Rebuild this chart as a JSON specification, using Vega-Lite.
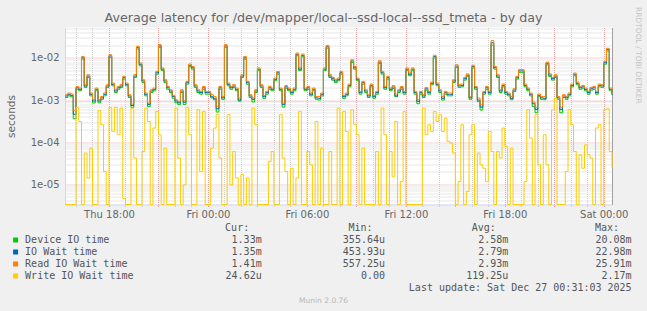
{
 "$schema": "https://vega.github.io/schema/vega-lite/v6.json",
 "background": "#f0f0f0",
 "padding": {"left": 6, "top": 6.5, "right": 10, "bottom": 12},
 "spacing": 3,
 "title": {"text": "Munin 2.0.76", "orient": "bottom", "anchor": "middle", "frame": "bounds", "fontSize": 7.5, "color": "#b8b8b8", "font": "DejaVu Sans", "fontWeight": "normal", "offset": 4},
 "config": {
  "view": {"stroke": null},
  "font": "DejaVu Sans",
  "axis": {"labelFont": "DejaVu Sans", "titleFont": "DejaVu Sans", "labelColor": "#666666", "titleColor": "#666666", "titleFontWeight": "normal"},
  "text": {"font": "DejaVu Sans Mono", "fontSize": 10, "color": "#555555", "baseline": "middle"}
 },
 "datasets": {
  "leg": [
   {"key": "dev", "name": "Device IO time", "Cur": "1.33m", "Min": "355.64u", "Avg": "2.58m", "Max": "20.08m"},
   {"key": "iow", "name": "IO Wait time", "Cur": "1.35m", "Min": "453.93u", "Avg": "2.79m", "Max": "22.98m"},
   {"key": "rd", "name": "Read IO Wait time", "Cur": "1.41m", "Min": "557.25u", "Avg": "2.93m", "Max": "25.91m"},
   {"key": "wr", "name": "Write IO Wait time", "Cur": "24.62u", "Min": "0.00\u00a0", "Avg": "119.25u", "Max": "2.17m"}
  ],
  "ts": [
   {"t":"2025-12-25T15:20","dev":0.00115,"iow":0.00125,"rd":0.00134,"wr":0},
   {"t":"2025-12-25T15:30","dev":0.00126,"iow":0.00137,"rd":0.00147,"wr":0},
   {"t":"2025-12-25T15:40","dev":0.0012,"iow":0.00129,"rd":0.00139,"wr":0},
   {"t":"2025-12-25T15:50","dev":0.00036,"iow":0.00046,"rd":0.00056,"wr":0},
   {"t":"2025-12-25T16:00","dev":0.0018,"iow":0.00196,"rd":0.00211,"wr":0.00067},
   {"t":"2025-12-25T16:10","dev":0.00166,"iow":0.0018,"rd":0.00193,"wr":0.00031},
   {"t":"2025-12-25T16:20","dev":0.0094,"iow":0.0101,"rd":0.0109,"wr":0},
   {"t":"2025-12-25T16:30","dev":0.002,"iow":0.00216,"rd":0.00232,"wr":0.000055},
   {"t":"2025-12-25T16:40","dev":0.00344,"iow":0.00372,"rd":0.004,"wr":0.000014},
   {"t":"2025-12-25T16:50","dev":0.00126,"iow":0.00137,"rd":0.00147,"wr":0.000072},
   {"t":"2025-12-25T17:00","dev":0.00085,"iow":0.00095,"rd":0.00102,"wr":0},
   {"t":"2025-12-25T17:10","dev":0.00166,"iow":0.0018,"rd":0.00193,"wr":0},
   {"t":"2025-12-25T17:20","dev":0.00086,"iow":0.00095,"rd":0.00102,"wr":0.00056},
   {"t":"2025-12-25T17:30","dev":0.00104,"iow":0.00113,"rd":0.00122,"wr":0.00026},
   {"t":"2025-12-25T17:40","dev":0.00126,"iow":0.00137,"rd":0.00147,"wr":0.00002},
   {"t":"2025-12-25T17:50","dev":0.002,"iow":0.00216,"rd":0.00232,"wr":0},
   {"t":"2025-12-25T18:00","dev":0.0103,"iow":0.0112,"rd":0.012,"wr":0.00067},
   {"t":"2025-12-25T18:10","dev":0.00218,"iow":0.00236,"rd":0.00254,"wr":0.00018},
   {"t":"2025-12-25T18:20","dev":0.00151,"iow":0.00164,"rd":0.00176,"wr":0.00067},
   {"t":"2025-12-25T18:30","dev":0.0018,"iow":0.00196,"rd":0.00211,"wr":0.00015},
   {"t":"2025-12-25T18:40","dev":0.002,"iow":0.00216,"rd":0.00232,"wr":0.000645},
   {"t":"2025-12-25T18:50","dev":0.00315,"iow":0.0034,"rd":0.00366,"wr":0.0000046},
   {"t":"2025-12-25T19:00","dev":0.00218,"iow":0.00236,"rd":0.00254,"wr":0},
   {"t":"2025-12-25T19:10","dev":0.00115,"iow":0.00125,"rd":0.00134,"wr":0},
   {"t":"2025-12-25T19:20","dev":0.00066,"iow":0.00074,"rd":0.0008,"wr":0.000645},
   {"t":"2025-12-25T19:30","dev":0.00344,"iow":0.00372,"rd":0.004,"wr":0.000042},
   {"t":"2025-12-25T19:40","dev":0.0163,"iow":0.0176,"rd":0.0189,"wr":0},
   {"t":"2025-12-25T19:50","dev":0.0065,"iow":0.00707,"rd":0.0076,"wr":0},
   {"t":"2025-12-25T20:00","dev":0.00262,"iow":0.00284,"rd":0.00305,"wr":0.00006},
   {"t":"2025-12-25T20:10","dev":0.00126,"iow":0.00137,"rd":0.00147,"wr":0.000645},
   {"t":"2025-12-25T20:20","dev":0.0007,"iow":0.00079,"rd":0.00085,"wr":0.00031},
   {"t":"2025-12-25T20:30","dev":0.00151,"iow":0.00164,"rd":0.00176,"wr":0},
   {"t":"2025-12-25T20:40","dev":0.00166,"iow":0.0018,"rd":0.00193,"wr":0.000216},
   {"t":"2025-12-25T20:50","dev":0.00413,"iow":0.00446,"rd":0.0048,"wr":0.00054},
   {"t":"2025-12-25T21:00","dev":0.0179,"iow":0.0193,"rd":0.0208,"wr":0.00015},
   {"t":"2025-12-25T21:10","dev":0.005,"iow":0.0054,"rd":0.0058,"wr":0},
   {"t":"2025-12-25T21:20","dev":0.00262,"iow":0.00284,"rd":0.00305,"wr":0.000072},
   {"t":"2025-12-25T21:30","dev":0.0018,"iow":0.00196,"rd":0.00211,"wr":0},
   {"t":"2025-12-25T21:40","dev":0.00151,"iow":0.00164,"rd":0.00176,"wr":0},
   {"t":"2025-12-25T21:50","dev":0.0011,"iow":0.00121,"rd":0.0013,"wr":0},
   {"t":"2025-12-25T22:00","dev":0.00086,"iow":0.00095,"rd":0.00102,"wr":0.000645},
   {"t":"2025-12-25T22:10","dev":0.00078,"iow":0.00086,"rd":0.00093,"wr":0.000042},
   {"t":"2025-12-25T22:20","dev":0.00151,"iow":0.00164,"rd":0.00176,"wr":0},
   {"t":"2025-12-25T22:30","dev":0.00078,"iow":0.00089,"rd":0.00096,"wr":0.0000096},
   {"t":"2025-12-25T22:40","dev":0.00239,"iow":0.00259,"rd":0.00278,"wr":0.00067},
   {"t":"2025-12-25T22:50","dev":0.0062,"iow":0.0067,"rd":0.0072,"wr":0.00015},
   {"t":"2025-12-25T23:00","dev":0.00542,"iow":0.00586,"rd":0.0063,"wr":0},
   {"t":"2025-12-25T23:10","dev":0.002,"iow":0.00216,"rd":0.00232,"wr":0},
   {"t":"2025-12-25T23:20","dev":0.00151,"iow":0.00164,"rd":0.00176,"wr":0.00059},
   {"t":"2025-12-25T23:30","dev":0.00138,"iow":0.0015,"rd":0.00161,"wr":0.00002},
   {"t":"2025-12-25T23:40","dev":0.0018,"iow":0.00196,"rd":0.00211,"wr":0.00054},
   {"t":"2025-12-25T23:50","dev":0.00138,"iow":0.0015,"rd":0.00161,"wr":0},
   {"t":"2025-12-26T00:00","dev":0.00138,"iow":0.0015,"rd":0.00161,"wr":0},
   {"t":"2025-12-26T00:10","dev":0.00112,"iow":0.0012,"rd":0.00134,"wr":0.000072},
   {"t":"2025-12-26T00:20","dev":0.00102,"iow":0.0011,"rd":0.00122,"wr":0.000216},
   {"t":"2025-12-26T00:30","dev":0.00052,"iow":0.00062,"rd":0.00071,"wr":0.00045},
   {"t":"2025-12-26T00:40","dev":0.0018,"iow":0.00196,"rd":0.00211,"wr":0.000042},
   {"t":"2025-12-26T00:50","dev":0.00104,"iow":0.00113,"rd":0.00122,"wr":0},
   {"t":"2025-12-26T01:00","dev":0.0179,"iow":0.0193,"rd":0.0208,"wr":0},
   {"t":"2025-12-26T01:10","dev":0.00218,"iow":0.00236,"rd":0.00254,"wr":0.00045},
   {"t":"2025-12-26T01:20","dev":0.0018,"iow":0.00196,"rd":0.00211,"wr":0.0000096},
   {"t":"2025-12-26T01:30","dev":0.002,"iow":0.00216,"rd":0.00232,"wr":0.00006},
   {"t":"2025-12-26T01:40","dev":0.00166,"iow":0.0018,"rd":0.00193,"wr":0.000014},
   {"t":"2025-12-26T01:50","dev":0.00094,"iow":0.001,"rd":0.00112,"wr":0},
   {"t":"2025-12-26T02:00","dev":0.00344,"iow":0.00372,"rd":0.004,"wr":0.000017},
   {"t":"2025-12-26T02:10","dev":0.0094,"iow":0.0101,"rd":0.0109,"wr":0},
   {"t":"2025-12-26T02:20","dev":0.00239,"iow":0.00259,"rd":0.00278,"wr":0.000014},
   {"t":"2025-12-26T02:30","dev":0.00115,"iow":0.00125,"rd":0.00134,"wr":0},
   {"t":"2025-12-26T02:40","dev":0.0009,"iow":0.00104,"rd":0.00112,"wr":0.000645},
   {"t":"2025-12-26T02:50","dev":0.00151,"iow":0.00164,"rd":0.00176,"wr":0.00026},
   {"t":"2025-12-26T03:00","dev":0.005,"iow":0.0054,"rd":0.0058,"wr":0},
   {"t":"2025-12-26T03:10","dev":0.002,"iow":0.00216,"rd":0.00232,"wr":0},
   {"t":"2025-12-26T03:20","dev":0.0011,"iow":0.0012,"rd":0.00129,"wr":0},
   {"t":"2025-12-26T03:30","dev":0.00138,"iow":0.0015,"rd":0.00161,"wr":0},
   {"t":"2025-12-26T03:40","dev":0.0018,"iow":0.00196,"rd":0.00211,"wr":0.000035},
   {"t":"2025-12-26T03:50","dev":0.00166,"iow":0.0018,"rd":0.00193,"wr":0.00006},
   {"t":"2025-12-26T04:00","dev":0.00287,"iow":0.0031,"rd":0.00334,"wr":0},
   {"t":"2025-12-26T04:10","dev":0.00413,"iow":0.00446,"rd":0.0048,"wr":0},
   {"t":"2025-12-26T04:20","dev":0.00166,"iow":0.0018,"rd":0.00193,"wr":0.00045},
   {"t":"2025-12-26T04:30","dev":0.00068,"iow":0.00079,"rd":0.00085,"wr":0.000042},
   {"t":"2025-12-26T04:40","dev":0.00192,"iow":0.00207,"rd":0.00223,"wr":0.00002},
   {"t":"2025-12-26T04:50","dev":0.00166,"iow":0.0018,"rd":0.00193,"wr":0},
   {"t":"2025-12-26T05:00","dev":0.00138,"iow":0.0015,"rd":0.00161,"wr":0.000024},
   {"t":"2025-12-26T05:10","dev":0.00166,"iow":0.0018,"rd":0.00193,"wr":0},
   {"t":"2025-12-26T05:20","dev":0.0113,"iow":0.0122,"rd":0.0131,"wr":0.000014},
   {"t":"2025-12-26T05:30","dev":0.005,"iow":0.0054,"rd":0.0058,"wr":0.00054},
   {"t":"2025-12-26T05:40","dev":0.0107,"iow":0.0115,"rd":0.0124,"wr":0},
   {"t":"2025-12-26T05:50","dev":0.00166,"iow":0.0018,"rd":0.00193,"wr":0},
   {"t":"2025-12-26T06:00","dev":0.0018,"iow":0.00196,"rd":0.00211,"wr":0.00006},
   {"t":"2025-12-26T06:10","dev":0.00126,"iow":0.00137,"rd":0.00147,"wr":0.000029},
   {"t":"2025-12-26T06:20","dev":0.00166,"iow":0.0018,"rd":0.00193,"wr":0},
   {"t":"2025-12-26T06:30","dev":0.00104,"iow":0.00113,"rd":0.00122,"wr":0.00031},
   {"t":"2025-12-26T06:40","dev":0.001,"iow":0.0011,"rd":0.00122,"wr":0},
   {"t":"2025-12-26T06:50","dev":0.00126,"iow":0.00137,"rd":0.00147,"wr":0.000072},
   {"t":"2025-12-26T07:00","dev":0.005,"iow":0.0054,"rd":0.0058,"wr":0},
   {"t":"2025-12-26T07:10","dev":0.0171,"iow":0.0185,"rd":0.0199,"wr":0},
   {"t":"2025-12-26T07:20","dev":0.00344,"iow":0.00372,"rd":0.004,"wr":0.00006},
   {"t":"2025-12-26T07:30","dev":0.00298,"iow":0.00322,"rd":0.00346,"wr":0},
   {"t":"2025-12-26T07:40","dev":0.00262,"iow":0.00284,"rd":0.00305,"wr":0},
   {"t":"2025-12-26T07:50","dev":0.00287,"iow":0.0031,"rd":0.00334,"wr":0.000645},
   {"t":"2025-12-26T08:00","dev":0.00413,"iow":0.00446,"rd":0.0048,"wr":0},
   {"t":"2025-12-26T08:10","dev":0.0011,"iow":0.0012,"rd":0.00129,"wr":0.00054},
   {"t":"2025-12-26T08:20","dev":0.00126,"iow":0.00137,"rd":0.00147,"wr":0.00018},
   {"t":"2025-12-26T08:30","dev":0.00206,"iow":0.00223,"rd":0.0024,"wr":0},
   {"t":"2025-12-26T08:40","dev":0.00783,"iow":0.00846,"rd":0.0091,"wr":0.00059},
   {"t":"2025-12-26T08:50","dev":0.00542,"iow":0.00586,"rd":0.0063,"wr":0.00026},
   {"t":"2025-12-26T09:00","dev":0.00287,"iow":0.0031,"rd":0.00334,"wr":0.00015},
   {"t":"2025-12-26T09:10","dev":0.00138,"iow":0.0015,"rd":0.00161,"wr":0},
   {"t":"2025-12-26T09:20","dev":0.00239,"iow":0.00259,"rd":0.00278,"wr":0.000072},
   {"t":"2025-12-26T09:30","dev":0.00151,"iow":0.00164,"rd":0.00176,"wr":0},
   {"t":"2025-12-26T09:40","dev":0.00115,"iow":0.00125,"rd":0.00134,"wr":0},
   {"t":"2025-12-26T09:50","dev":0.00206,"iow":0.00223,"rd":0.0024,"wr":0},
   {"t":"2025-12-26T10:00","dev":0.0011,"iow":0.0012,"rd":0.00129,"wr":0},
   {"t":"2025-12-26T10:10","dev":0.00138,"iow":0.0015,"rd":0.00161,"wr":0.00006},
   {"t":"2025-12-26T10:20","dev":0.0074,"iow":0.008,"rd":0.0086,"wr":0},
   {"t":"2025-12-26T10:30","dev":0.00413,"iow":0.00446,"rd":0.0048,"wr":0.000645},
   {"t":"2025-12-26T10:40","dev":0.0018,"iow":0.00196,"rd":0.00211,"wr":0.00015},
   {"t":"2025-12-26T10:50","dev":0.00315,"iow":0.0034,"rd":0.00366,"wr":0},
   {"t":"2025-12-26T11:00","dev":0.00166,"iow":0.0018,"rd":0.00193,"wr":0.00006},
   {"t":"2025-12-26T11:10","dev":0.00189,"iow":0.00205,"rd":0.0022,"wr":0.000015},
   {"t":"2025-12-26T11:20","dev":0.0012,"iow":0.00125,"rd":0.00139,"wr":0.00031},
   {"t":"2025-12-26T11:30","dev":0.00151,"iow":0.00164,"rd":0.00176,"wr":0},
   {"t":"2025-12-26T11:40","dev":0.0018,"iow":0.00196,"rd":0.00211,"wr":0.0000115},
   {"t":"2025-12-26T11:50","dev":0.00138,"iow":0.0015,"rd":0.00161,"wr":0.00054},
   {"t":"2025-12-26T12:00","dev":0.005,"iow":0.0054,"rd":0.0058,"wr":0},
   {"t":"2025-12-26T12:10","dev":0.00378,"iow":0.0041,"rd":0.0044,"wr":0},
   {"t":"2025-12-26T12:20","dev":0.005,"iow":0.0054,"rd":0.0058,"wr":0},
   {"t":"2025-12-26T12:30","dev":0.00138,"iow":0.0015,"rd":0.00161,"wr":0},
   {"t":"2025-12-26T12:40","dev":0.00082,"iow":0.00093,"rd":0.00102,"wr":0},
   {"t":"2025-12-26T12:50","dev":0.00138,"iow":0.0015,"rd":0.00161,"wr":0},
   {"t":"2025-12-26T13:00","dev":0.00115,"iow":0.00125,"rd":0.00134,"wr":0.000645},
   {"t":"2025-12-26T13:10","dev":0.00172,"iow":0.00186,"rd":0.002,"wr":0.00015},
   {"t":"2025-12-26T13:20","dev":0.00138,"iow":0.0015,"rd":0.00161,"wr":0.00026},
   {"t":"2025-12-26T13:30","dev":0.0023,"iow":0.00249,"rd":0.00268,"wr":0.00018},
   {"t":"2025-12-26T13:40","dev":0.01,"iow":0.0108,"rd":0.0116,"wr":0.00054},
   {"t":"2025-12-26T13:50","dev":0.00218,"iow":0.00236,"rd":0.00254,"wr":0.00031},
   {"t":"2025-12-26T14:00","dev":0.00151,"iow":0.00164,"rd":0.00176,"wr":0.00045},
   {"t":"2025-12-26T14:10","dev":0.001,"iow":0.0011,"rd":0.00122,"wr":0.00018},
   {"t":"2025-12-26T14:20","dev":0.00138,"iow":0.0015,"rd":0.00161,"wr":0.00037},
   {"t":"2025-12-26T14:30","dev":0.00126,"iow":0.00137,"rd":0.00147,"wr":0.000104},
   {"t":"2025-12-26T14:40","dev":0.00126,"iow":0.00137,"rd":0.00147,"wr":0.000095},
   {"t":"2025-12-26T14:50","dev":0.00262,"iow":0.00284,"rd":0.00305,"wr":0.000055},
   {"t":"2025-12-26T15:00","dev":0.00593,"iow":0.00642,"rd":0.0069,"wr":0},
   {"t":"2025-12-26T15:10","dev":0.002,"iow":0.00216,"rd":0.00232,"wr":0.0000115},
   {"t":"2025-12-26T15:20","dev":0.00206,"iow":0.00223,"rd":0.0024,"wr":0.00026},
   {"t":"2025-12-26T15:30","dev":0.00298,"iow":0.00322,"rd":0.00346,"wr":0},
   {"t":"2025-12-26T15:40","dev":0.00361,"iow":0.0039,"rd":0.0042,"wr":0.0000067},
   {"t":"2025-12-26T15:50","dev":0.00104,"iow":0.00113,"rd":0.00122,"wr":0.00015},
   {"t":"2025-12-26T16:00","dev":0.00576,"iow":0.00623,"rd":0.0067,"wr":0.00026},
   {"t":"2025-12-26T16:10","dev":0.0018,"iow":0.00196,"rd":0.00211,"wr":0},
   {"t":"2025-12-26T16:20","dev":0.00092,"iow":0.001,"rd":0.00112,"wr":0.000055},
   {"t":"2025-12-26T16:30","dev":0.00058,"iow":0.00068,"rd":0.00077,"wr":0.000029},
   {"t":"2025-12-26T16:40","dev":0.00138,"iow":0.0015,"rd":0.00161,"wr":0.000024},
   {"t":"2025-12-26T16:50","dev":0.0018,"iow":0.00196,"rd":0.00211,"wr":0.0000115},
   {"t":"2025-12-26T17:00","dev":0.00138,"iow":0.0015,"rd":0.00161,"wr":0.00018},
   {"t":"2025-12-26T17:10","dev":0.02008,"iow":0.02298,"rd":0.02591,"wr":0.00006},
   {"t":"2025-12-26T17:20","dev":0.00542,"iow":0.00586,"rd":0.0063,"wr":0},
   {"t":"2025-12-26T17:30","dev":0.00344,"iow":0.00372,"rd":0.004,"wr":0.00006},
   {"t":"2025-12-26T17:40","dev":0.00151,"iow":0.00164,"rd":0.00176,"wr":0.000042},
   {"t":"2025-12-26T17:50","dev":0.00206,"iow":0.00223,"rd":0.0024,"wr":0.000216},
   {"t":"2025-12-26T18:00","dev":0.00138,"iow":0.0015,"rd":0.00161,"wr":0.000079},
   {"t":"2025-12-26T18:10","dev":0.00126,"iow":0.00137,"rd":0.00147,"wr":0},
   {"t":"2025-12-26T18:20","dev":0.00102,"iow":0.0011,"rd":0.00122,"wr":0.000072},
   {"t":"2025-12-26T18:30","dev":0.0016,"iow":0.00173,"rd":0.00186,"wr":0},
   {"t":"2025-12-26T18:40","dev":0.00315,"iow":0.0034,"rd":0.00366,"wr":0},
   {"t":"2025-12-26T18:50","dev":0.00456,"iow":0.00493,"rd":0.0053,"wr":0},
   {"t":"2025-12-26T19:00","dev":0.00456,"iow":0.00493,"rd":0.0053,"wr":0},
   {"t":"2025-12-26T19:10","dev":0.00206,"iow":0.00223,"rd":0.0024,"wr":0.0000115},
   {"t":"2025-12-26T19:20","dev":0.00166,"iow":0.0018,"rd":0.00193,"wr":0.00059},
   {"t":"2025-12-26T19:30","dev":0.00126,"iow":0.00137,"rd":0.00147,"wr":0.000125},
   {"t":"2025-12-26T19:40","dev":0.0007,"iow":0.00082,"rd":0.0009,"wr":0},
   {"t":"2025-12-26T19:50","dev":0.0005,"iow":0.0006,"rd":0.00067,"wr":0.00045},
   {"t":"2025-12-26T20:00","dev":0.0012,"iow":0.00129,"rd":0.00139,"wr":0.000029},
   {"t":"2025-12-26T20:10","dev":0.00104,"iow":0.00113,"rd":0.00122,"wr":0},
   {"t":"2025-12-26T20:20","dev":0.00102,"iow":0.0011,"rd":0.00122,"wr":0.00015},
   {"t":"2025-12-26T20:30","dev":0.00688,"iow":0.00744,"rd":0.008,"wr":0.000029},
   {"t":"2025-12-26T20:40","dev":0.00361,"iow":0.0039,"rd":0.0042,"wr":0},
   {"t":"2025-12-26T20:50","dev":0.00298,"iow":0.00322,"rd":0.00346,"wr":0.00059},
   {"t":"2025-12-26T21:00","dev":0.00344,"iow":0.00372,"rd":0.004,"wr":0.0011},
   {"t":"2025-12-26T21:10","dev":0.00104,"iow":0.00113,"rd":0.00122,"wr":0},
   {"t":"2025-12-26T21:20","dev":0.0005,"iow":0.0006,"rd":0.00067,"wr":0},
   {"t":"2025-12-26T21:30","dev":0.00115,"iow":0.00125,"rd":0.00134,"wr":0},
   {"t":"2025-12-26T21:40","dev":0.00104,"iow":0.00113,"rd":0.00122,"wr":0.00002},
   {"t":"2025-12-26T21:50","dev":0.00126,"iow":0.00137,"rd":0.00147,"wr":0.00059},
   {"t":"2025-12-26T22:00","dev":0.00206,"iow":0.00223,"rd":0.0024,"wr":0.00026},
   {"t":"2025-12-26T22:10","dev":0.00378,"iow":0.0041,"rd":0.0044,"wr":0.00006},
   {"t":"2025-12-26T22:20","dev":0.0023,"iow":0.00249,"rd":0.00268,"wr":0},
   {"t":"2025-12-26T22:30","dev":0.0018,"iow":0.00196,"rd":0.00211,"wr":0.00005},
   {"t":"2025-12-26T22:40","dev":0.00192,"iow":0.00207,"rd":0.00223,"wr":0.000024},
   {"t":"2025-12-26T22:50","dev":0.00166,"iow":0.0018,"rd":0.00193,"wr":0.000086},
   {"t":"2025-12-26T23:00","dev":0.00138,"iow":0.0015,"rd":0.00161,"wr":0.00005},
   {"t":"2025-12-26T23:10","dev":0.00172,"iow":0.00186,"rd":0.002,"wr":0.000042},
   {"t":"2025-12-26T23:20","dev":0.0018,"iow":0.00196,"rd":0.00211,"wr":0},
   {"t":"2025-12-26T23:30","dev":0.00138,"iow":0.0015,"rd":0.00161,"wr":0.000216},
   {"t":"2025-12-26T23:40","dev":0.00206,"iow":0.00223,"rd":0.0024,"wr":0.00026},
   {"t":"2025-12-26T23:50","dev":0.002,"iow":0.00216,"rd":0.00232,"wr":0},
   {"t":"2025-12-27T00:00","dev":0.0071,"iow":0.0077,"rd":0.0083,"wr":0.00059},
   {"t":"2025-12-27T00:10","dev":0.0146,"iow":0.0158,"rd":0.017,"wr":0.00062},
   {"t":"2025-12-27T00:20","dev":0.00166,"iow":0.0018,"rd":0.00193,"wr":0.00006},
   {"t":"2025-12-27T00:30","dev":0.00133,"iow":0.00135,"rd":0.00141,"wr":0.0000246}
  ]
 },
 "vconcat": [
  {
   "title": {"text": "Average latency for /dev/mapper/local--ssd-local--ssd_tmeta - by day", "fontSize": 12.7, "fontWeight": "normal", "color": "#666666", "font": "DejaVu Sans", "anchor": "middle", "frame": "bounds", "offset": -18},
   "width": 547,
   "height": 177,
   "view": {"fill": "white", "stroke": null},
   "data": {"name": "ts"},
   "resolve": {"axis": {"x": "independent", "y": "independent"}},
   "layer": [
    {
     "mark": {"type": "line", "interpolate": "step-after", "strokeWidth": 1, "color": "#00cc00"},
     "encoding": {
      "x": {"field": "t", "type": "temporal",
            "scale": {"domain": [{"year": 2025, "month": 12, "date": 25, "hours": 15, "minutes": 20}, {"year": 2025, "month": 12, "date": 27, "hours": 0, "minutes": 30}]},
            "axis": {"orient": "bottom", "values": [
              {"year": 2025, "month": 12, "date": 25, "hours": 16}, {"year": 2025, "month": 12, "date": 25, "hours": 17}, {"year": 2025, "month": 12, "date": 25, "hours": 19}, {"year": 2025, "month": 12, "date": 25, "hours": 20},
              {"year": 2025, "month": 12, "date": 25, "hours": 22}, {"year": 2025, "month": 12, "date": 25, "hours": 23}, {"year": 2025, "month": 12, "date": 26, "hours": 1}, {"year": 2025, "month": 12, "date": 26, "hours": 2},
              {"year": 2025, "month": 12, "date": 26, "hours": 4}, {"year": 2025, "month": 12, "date": 26, "hours": 5}, {"year": 2025, "month": 12, "date": 26, "hours": 7}, {"year": 2025, "month": 12, "date": 26, "hours": 8},
              {"year": 2025, "month": 12, "date": 26, "hours": 10}, {"year": 2025, "month": 12, "date": 26, "hours": 11}, {"year": 2025, "month": 12, "date": 26, "hours": 13}, {"year": 2025, "month": 12, "date": 26, "hours": 14},
              {"year": 2025, "month": 12, "date": 26, "hours": 16}, {"year": 2025, "month": 12, "date": 26, "hours": 17}, {"year": 2025, "month": 12, "date": 26, "hours": 19}, {"year": 2025, "month": 12, "date": 26, "hours": 20},
              {"year": 2025, "month": 12, "date": 26, "hours": 22}, {"year": 2025, "month": 12, "date": 26, "hours": 23}],
              "grid": true, "gridColor": "#cfcfcf", "gridDash": [1, 1], "labels": false, "ticks": true, "tickColor": "#cfcfcf", "tickSize": 2, "domain": false, "title": null}},
      "y": {"field": "dev", "type": "quantitative",
            "scale": {"type": "log", "domain": [0.0000033, 0.053], "clamp": true, "nice": false},
            "axis": {"orient": "left", "values": [0.000004, 0.000005, 0.000006, 0.000007, 0.000008, 0.000009, 0.00002, 0.00003, 0.00004, 0.00005, 0.00006, 0.00007, 0.00008, 0.00009, 0.0002, 0.0003, 0.0004, 0.0005, 0.0006, 0.0007, 0.0008, 0.0009, 0.002, 0.003, 0.004, 0.005, 0.006, 0.007, 0.008, 0.009, 0.02, 0.03, 0.04, 0.05],
                     "grid": true, "gridColor": "#cfcfcf", "gridDash": [1, 1], "labels": false, "ticks": false, "domain": false, "title": null}}
     }
    },
    {
     "mark": {"type": "line", "interpolate": "step-after", "strokeWidth": 1, "color": "#0066b3"},
     "encoding": {
      "x": {"field": "t", "type": "temporal",
            "axis": {"orient": "bottom", "values": [
              {"year": 2025, "month": 12, "date": 25, "hours": 18}, {"year": 2025, "month": 12, "date": 25, "hours": 21}, {"year": 2025, "month": 12, "date": 26, "hours": 0}, {"year": 2025, "month": 12, "date": 26, "hours": 3},
              {"year": 2025, "month": 12, "date": 26, "hours": 6}, {"year": 2025, "month": 12, "date": 26, "hours": 9}, {"year": 2025, "month": 12, "date": 26, "hours": 12}, {"year": 2025, "month": 12, "date": 26, "hours": 15},
              {"year": 2025, "month": 12, "date": 26, "hours": 18}, {"year": 2025, "month": 12, "date": 26, "hours": 21}, {"year": 2025, "month": 12, "date": 27, "hours": 0}],
              "grid": true, "gridColor": "#eca0a0", "gridDash": [1, 1], "labels": false, "ticks": true, "tickColor": "#eca0a0", "tickSize": 2, "domain": false, "title": null}},
      "y": {"field": "iow", "type": "quantitative",
            "axis": {"orient": "left", "values": [0.00001, 0.0001, 0.001, 0.01], "grid": true, "gridColor": "#eca0a0", "gridDash": [1, 1],
                     "labelExpr": "'1e-0' + round(-log(datum.value)/LN10)", "labelFontSize": 10, "labelPadding": 6,
                     "ticks": false, "domain": true, "domainColor": "#cfd6f8", "title": "seconds", "titleFontSize": 10.5, "titlePadding": 14}}
     }
    },
    {
     "mark": {"type": "line", "interpolate": "step-after", "strokeWidth": 1, "color": "#ff8000"},
     "encoding": {
      "x": {"field": "t", "type": "temporal",
            "axis": {"orient": "bottom", "values": [
              {"year": 2025, "month": 12, "date": 25, "hours": 18}, {"year": 2025, "month": 12, "date": 26, "hours": 0}, {"year": 2025, "month": 12, "date": 26, "hours": 6},
              {"year": 2025, "month": 12, "date": 26, "hours": 12}, {"year": 2025, "month": 12, "date": 26, "hours": 18}, {"year": 2025, "month": 12, "date": 27, "hours": 0}],
              "format": "%a %H:%M", "grid": false, "ticks": false, "labelPadding": 5, "labelFontSize": 10, "labelFlush": false, "labelOverlap": false, "domain": true, "domainColor": "#cfd6f8", "title": null}},
      "y": {"field": "rd", "type": "quantitative",
            "axis": {"orient": "right", "grid": false, "labels": false, "ticks": false, "domain": true, "domainColor": "#a0a0a0", "title": "RRDTOOL / TOBI OETIKER", "titleAngle": 90, "titleFontSize": 7.5, "titleColor": "#c4c4c4", "titlePadding": 21, "titleAlign": "left", "titleY": -21}}
     }
    },
    {
     "mark": {"type": "line", "interpolate": "step-after", "strokeWidth": 1, "color": "#ffcc00"},
     "encoding": {
      "x": {"field": "t", "type": "temporal", "axis": null},
      "y": {"field": "wr", "type": "quantitative", "axis": null}
     }
    }
   ]
  },
  {
   "width": 566.6,
   "height": 60,
   "data": {"name": "leg"},
   "resolve": {"axis": {"y": "independent"}},
   "layer": [
    {
     "transform": [{"fold": ["Cur", "Min", "Avg", "Max"], "as": ["col", "txt"]}],
     "mark": {"type": "text", "align": "right"},
     "encoding": {
      "x": {"field": "col", "type": "nominal", "scale": {"type": "point", "domain": ["Cur", "Min", "Avg", "Max"], "padding": 0.7976, "align": 1}, "axis": null},
      "y": {"field": "name", "type": "nominal",
            "scale": {"type": "point", "domain": ["hdr", "Device IO time", "IO Wait time", "Read IO Wait time", "Write IO Wait time", "upd"], "padding": 0},
            "axis": {"orient": "left", "offset": 47.4, "values": ["Device IO time", "IO Wait time", "Read IO Wait time", "Write IO Wait time"],
                     "ticks": true, "tickSize": 5, "tickWidth": 5,
                     "tickColor": {"condition": [{"test": "datum.value === 'Device IO time'", "value": "#00cc00"}, {"test": "datum.value === 'IO Wait time'", "value": "#0066b3"}, {"test": "datum.value === 'Read IO Wait time'", "value": "#ff8000"}], "value": "#ffcc00"},
                     "labels": false, "domain": false, "grid": false, "title": null}},
      "text": {"field": "txt"}
     }
    },
    {
     "data": {"values": [{"col": "Cur", "h": "Cur:"}, {"col": "Min", "h": "Min:"}, {"col": "Avg", "h": "Avg:"}, {"col": "Max", "h": "Max:"}]},
     "mark": {"type": "text", "align": "right", "dx": -12.5},
     "encoding": {
      "x": {"field": "col", "type": "nominal"},
      "y": {"datum": "hdr", "type": "nominal",
            "axis": {"orient": "left", "offset": 40.4, "values": ["Device IO time", "IO Wait time", "Read IO Wait time", "Write IO Wait time"],
                     "ticks": false, "labels": true, "labelAlign": "left", "labelBaseline": "middle", "labelPadding": 0,
                     "labelFont": "DejaVu Sans Mono", "labelFontSize": 10, "labelColor": "#555555", "labelLimit": 0,
                     "domain": false, "grid": false, "title": null}},
      "text": {"field": "h"}
     }
    },
    {
     "data": {"values": [{"txt": "Last update: Sat Dec 27 00:31:03 2025"}]},
     "mark": {"type": "text", "align": "right"},
     "encoding": {
      "x": {"datum": "Max", "type": "nominal"},
      "y": {"datum": "upd", "type": "nominal", "axis": null},
      "text": {"field": "txt"}
     }
    }
   ]
  }
 ]
}
